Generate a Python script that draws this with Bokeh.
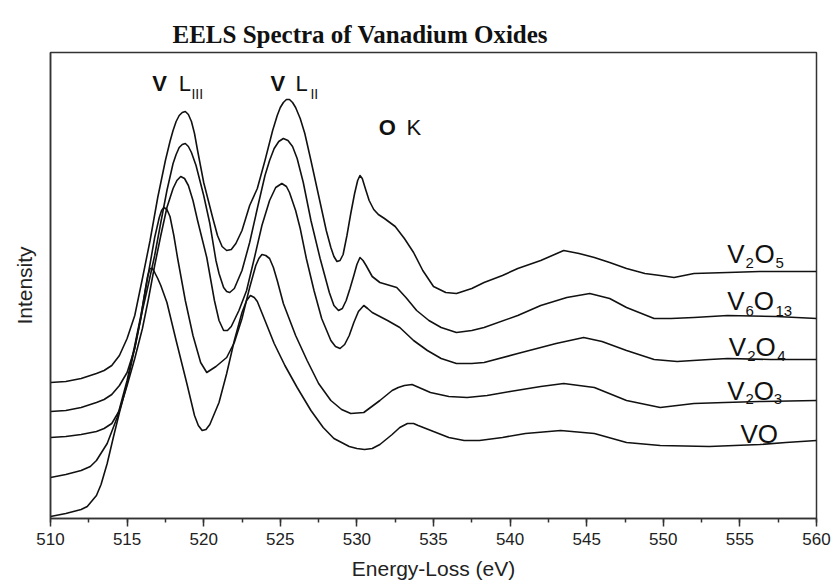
from bokeh.plotting import figure
from bokeh.models import Range1d, Label, SingleIntervalTicker, FixedTicker
from bokeh.embed import file_html
from bokeh.resources import INLINE

# ---- data (energy in eV, intensity in arbitrary units) ----
e_v2o5 = [510, 511, 512, 513, 513.5, 514, 514.5, 515, 515.5, 516, 516.5, 517, 517.5, 517.8, 518, 518.2,
          518.4, 518.6, 518.8, 519, 519.2, 519.4, 519.6, 519.8, 520, 520.3, 520.6, 520.9, 521.2, 521.5,
          521.8, 522.1, 522.5, 523, 523.5, 524, 524.5, 524.8, 525, 525.2, 525.4, 525.6, 525.8, 526, 526.3,
          526.6, 527, 527.5, 528, 528.3, 528.5, 528.7, 528.9, 529.1, 529.35, 529.6, 529.85, 530.05, 530.2,
          530.35, 530.55, 530.8, 531.1, 531.4, 531.8, 532.5, 533.1, 533.7, 534.3, 535, 535.8, 536.5, 537.5,
          538.3, 539.5, 540.5, 542, 543.5, 544.5, 545.5, 546.5, 547.6, 548.8, 549.8, 550.7, 552, 554.2,
          556.3, 558, 560]
i_v2o5 = [136, 137, 140, 145, 148, 153, 163, 180, 203, 240, 278, 321, 358, 377, 388, 397,
          403, 406, 407, 404, 397, 385, 368, 352, 336, 318, 300, 283, 272, 268,
          269, 275, 288, 313, 330, 358, 388, 403, 411, 416, 419, 419, 416, 411, 400,
          385, 358, 323, 288, 271, 262, 257, 258, 264, 283, 305, 325, 338, 343,
          340, 330, 318, 309, 304, 300, 292, 280, 266, 248, 232, 226, 225, 230,
          236, 243, 250, 258, 268, 265, 261, 256, 250, 245, 243, 241, 245, 246,
          247, 247, 247]

e_v6o13 = [510, 511, 512, 513, 513.5, 514, 514.5, 515, 515.5, 516, 516.4, 516.8, 517.2, 517.6, 518, 518.2,
           518.4, 518.6, 518.8, 519, 519.2, 519.5, 520, 520.4, 520.8, 521, 521.3, 521.5, 521.7, 522, 522.5,
           523, 523.5, 524, 524.3, 524.6, 524.9, 525.2, 525.5, 525.8, 526.1, 526.5, 527, 527.6, 528.2,
           528.5, 528.8, 529.05, 529.3, 529.55, 529.8, 530, 530.2, 530.4, 530.6, 531, 531.5, 532.6, 533.2,
           533.9, 534.7, 535.5, 536.5, 537.5, 538.3, 540.5, 542, 543.7, 545.2, 546.5, 547.6, 549.4, 550.5,
           552, 554.2, 557.4, 560]
i_v6o13 = [107, 108, 111, 116, 119, 124, 133, 146, 170, 208, 235, 263, 296, 328, 355, 364,
           371, 374, 375, 372, 366, 353, 323, 295, 258, 245, 231, 227, 226, 230, 248,
           276, 310, 343, 358, 370, 377, 380, 378, 372, 360, 336, 298, 260, 226,
           213, 208, 210, 218, 230, 243, 254, 261, 258, 253, 242, 236, 231, 221,
           208, 198, 191, 186, 188, 191, 203, 213, 221, 225, 220, 211, 200, 200,
           201, 203, 202, 200]

e_v2o4 = [510, 511, 512, 513, 513.5, 514, 514.5, 515, 515.5, 516, 516.4, 516.8, 517.2, 517.6, 518, 518.25,
          518.5, 518.75, 519, 519.3, 519.6, 520.2, 520.7, 521, 521.3, 521.55, 521.8, 522.3, 522.8, 523.3,
          523.8, 524.3, 524.7, 525.1, 525.4, 525.6, 526, 526.3, 526.7, 527.2, 527.7, 528.3, 528.6, 528.9,
          529.2, 529.5, 529.8, 530.1, 530.45, 530.7, 531, 532, 532.8, 533.7, 534.6, 535.5, 536.5, 537.5,
          538.3, 540.5, 543, 544.8, 546, 547.6, 549.4, 550.9, 553, 554.2, 557, 560]
i_v2o4 = [81, 82, 84, 87, 90, 95, 108, 133, 160, 190, 220, 253, 283, 311, 330, 338,
          342, 340, 333, 318, 298, 261, 218, 198, 188, 188, 192, 208, 228, 260,
          293, 318, 331, 335, 332, 326, 308, 290, 260, 228, 200, 178, 172, 170,
          174, 183, 196, 207, 213, 210, 206, 198, 191, 178, 168, 160, 155, 155,
          156, 165, 175, 181, 177, 168, 159, 157, 159, 160, 159, 159]

e_v2o3 = [510, 511, 512, 512.6, 513, 513.7, 514.35, 515, 515.5, 515.9, 516.4, 516.8, 517.1, 517.25, 517.4,
          517.6, 517.8, 518.05, 518.3, 518.8, 519.3, 519.8, 520.2, 520.8, 521.5, 522, 522.5, 523, 523.4,
          523.6, 523.8, 524.05, 524.3, 524.55, 524.8, 525.2, 526, 526.75, 527.5, 528.3, 529, 529.6, 530.45,
          531.5, 532.3, 532.7, 533.1, 533.6, 534.2, 534.8, 536, 537.2, 538.5, 540, 542, 543.5, 545.5,
          547.6, 549.8, 552, 554, 556.3, 560]
i_v2o3 = [41, 44, 48, 52, 58, 75, 101, 138, 173, 203, 246, 281, 301, 308, 311,
          309, 302, 283, 260, 218, 183, 156, 146, 152, 161, 176, 200, 231, 253,
          260, 264, 263, 260, 251, 238, 215, 183, 158, 135, 118, 109, 105, 106,
          118, 128, 131, 133, 134, 130, 126, 122, 121, 123, 127, 132, 135, 131,
          118, 111, 115, 116, 117, 118]

e_vo = [510, 511, 512, 512.4, 513, 513.3, 513.7, 514.1, 514.5, 515, 515.5, 515.9, 516.2, 516.35, 516.5,
        516.65, 516.8, 517, 517.2, 517.6, 518.2, 518.9, 519.4, 519.65, 519.9, 520.15, 520.4, 521, 521.5,
        522, 522.5, 522.8, 523.05, 523.3, 523.5, 524, 524.6, 525.3, 526.1, 527, 527.8, 528.5, 529.5, 530,
        530.5, 531, 531.5, 532.3, 532.8, 533.3, 533.7, 534, 535, 536, 537, 538, 539.5, 541, 543.3, 545.5,
        547.6, 549.8, 553, 556.3, 558, 560]
i_vo = [2, 5, 9, 12, 23, 34, 55, 81, 106, 135, 171, 201, 230, 243, 250,
        250, 246, 240, 233, 216, 178, 135, 103, 93, 88, 89, 94, 116, 145,
        178, 206, 218, 223, 221, 217, 198, 175, 153, 131, 108, 91, 80, 72, 70,
        69, 70, 74, 84, 91, 95, 95, 93, 87, 81, 78, 78, 81, 85, 88, 85,
        76, 73, 72, 74, 76, 78]

series = [(e_v2o5, i_v2o5), (e_v6o13, i_v6o13), (e_v2o4, i_v2o4), (e_v2o3, i_v2o3), (e_vo, i_vo)]

x_ticks_interval = 5

SANS = "Liberation Sans"
SERIF = "Liberation Serif"

p = figure(width=834, height=587, output_backend="svg", toolbar_location=None,
           x_range=Range1d(510, 560), y_range=Range1d(0, 466),
           min_border_left=50, min_border_right=18, min_border_top=52, min_border_bottom=69)
p.grid.visible = False
p.background_fill_color = "white"
p.border_fill_color = "white"
p.outline_line_color = "#333333"
p.outline_line_width = 1.5

p.title.text = "EELS Spectra of Vanadium Oxides"
p.title.text_font = SERIF
p.title.text_font_style = "bold"
p.title.text_font_size = "25px"
p.title.text_color = "#111111"
p.title.align = "left"
p.title.offset = 122
p.title.standoff = 10

for ex, iy in series:
    p.line(ex, iy, line_color="#111111", line_width=1.6, line_join="round")

xa = p.xaxis[0]
xa.ticker = SingleIntervalTicker(interval=x_ticks_interval, num_minor_ticks=2)
xa.major_tick_out = 8
xa.major_tick_in = 0
xa.minor_tick_out = 4
xa.minor_tick_in = 0
xa.axis_line_color = "#333333"
xa.axis_line_width = 1.5
xa.major_tick_line_color = "#333333"
xa.major_tick_line_width = 1.5
xa.minor_tick_line_color = "#333333"
xa.minor_tick_line_width = 1.5
xa.major_label_text_font = SANS
xa.major_label_text_font_size = "17px"
xa.major_label_text_color = "#222222"
xa.major_label_standoff = 6
xa.axis_label = "Energy-Loss (eV)"
xa.axis_label_text_font = SANS
xa.axis_label_text_font_size = "21px"
xa.axis_label_text_font_style = "normal"
xa.axis_label_text_color = "#222222"
xa.axis_label_standoff = 9

ya = p.yaxis[0]
ya.ticker = FixedTicker(ticks=[])
ya.major_tick_out = 0
ya.major_tick_in = 0
ya.minor_tick_out = 0
ya.minor_tick_in = 0
ya.axis_line_color = "#333333"
ya.axis_line_width = 1.5
ya.axis_label = "Intensity"
ya.axis_label_text_font = SANS
ya.axis_label_text_font_size = "21px"
ya.axis_label_text_font_style = "normal"
ya.axis_label_text_color = "#222222"
ya.axis_label_standoff = 15


def lab(x, y, text, size, bold=False, font=SANS, align="left", baseline="alphabetic"):
    p.add_layout(Label(x=x, y=y, text=text, text_font=font, text_font_size=f"{size}px",
                       text_font_style="bold" if bold else "normal", text_color="#111111",
                       text_align=align, text_baseline=baseline))


# edge labels
lab(516.64, 435.3, "V", 22, bold=True)
lab(518.37, 435.3, "L", 22)
lab(519.2, 424.7, "III", 14)
lab(524.36, 435.3, "V", 22, bold=True)
lab(525.99, 435.3, "L", 22)
lab(526.97, 424.7, "II", 14)
lab(531.43, 391.3, "O", 22, bold=True)
lab(533.24, 391.3, "K", 22)

# series labels
lab(554.17, 264.7, "V", 26); lab(555.37, 255.7, "2", 15); lab(555.95, 264.7, "O", 26); lab(557.32, 255.7, "5", 15)
lab(554.17, 218.0, "V", 26); lab(555.37, 208.0, "6", 15); lab(555.91, 218.0, "O", 26); lab(557.32, 208.0, "13", 15)
lab(554.28, 171.3, "V", 26); lab(555.48, 162.5, "2", 15); lab(556.02, 171.3, "O", 26); lab(557.43, 162.5, "4", 15)
lab(554.17, 128.0, "V", 26); lab(555.37, 119.5, "2", 15); lab(555.91, 128.0, "O", 26); lab(557.21, 119.5, "3", 15)
lab(555.04, 85.0, "VO", 26)

open("out.html", "w").write(file_html(p, INLINE))
